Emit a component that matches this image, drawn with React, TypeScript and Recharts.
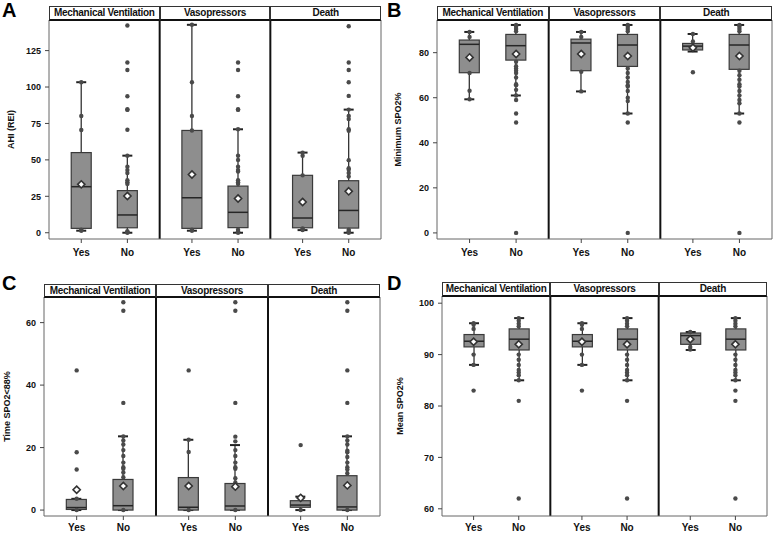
import { ComposedChart, Bar, Scatter, XAxis, YAxis, ReferenceLine } from 'recharts'

const FACETS = ['Mechanical Ventilation', 'Vasopressors', 'Death']
const GROUPS = ['Yes', 'No']
// order of every stat array: MV Yes, MV No, Vaso Yes, Vaso No, Death Yes, Death No

// A: AHI (REI)
const AHI_LOW = [1.4, 0, 1.4, 0, 1.8, 0]
const AHI_Q1 = [3, 3.4, 3, 3.5, 3.4, 3.2]
const AHI_MED = [31.6, 12.2, 24, 14, 10.1, 15.3]
const AHI_Q3 = [55, 28.9, 70.2, 32, 39.4, 35.7]
const AHI_HIGH = [103.3, 52.9, 142.7, 71, 55, 84.5]
const AHI_MEAN = [33.2, 25.2, 40, 23.5, 21.1, 28.4]
const AHI_DOTS = [
  [103.3, 80.1, 70.5, 2, 1.4],
  [142.2, 116.8, 111.7, 93.7, 84.8, 84.3, 70.7, 52.9, 45.3, 43, 41, 36, 34.6, 33.5, 1, 0.5, 0],
  [142.7, 103.3, 80.1, 70.2, 2, 1.4],
  [116.8, 111.7, 93.7, 84.8, 84.3, 71, 52.9, 50, 45.3, 43, 42, 36, 34.6, 33.5, 2, 1, 0],
  [55, 52.8, 39.4, 3, 1.8],
  [141.7, 116.8, 111.7, 103.3, 93.9, 84.5, 80.2, 78, 71.1, 70, 49.8, 44.3, 43.2, 41, 38.6, 2, 1, 0],
]
const AHI_TICKS = [0, 25, 50, 75, 100, 125]

// B: Minimum SPO2%
const MIN_LOW = [59.3, 61, 62.8, 53, 80.5, 53]
const MIN_Q1 = [71.1, 76.7, 72, 73.9, 81.2, 72.6]
const MIN_MED = [83.7, 83.1, 84.3, 83.4, 82.9, 83.4]
const MIN_Q3 = [85.6, 88.1, 86, 88.1, 84.1, 88.1]
const MIN_HIGH = [89.2, 92.3, 89.2, 92.3, 88.3, 92.3]
const MIN_MEAN = [77.9, 79.4, 79.4, 78.5, 82.2, 78.5]
const MIN_DOTS = [
  [89.2, 87, 71, 63.1, 59.3],
  [92.3, 91.5, 90.5, 89.5, 76, 74, 73, 72, 71, 69, 66, 65.5, 63.5, 61, 59, 53, 49, 0],
  [89.2, 87, 71.5, 62.8],
  [92.3, 91.5, 90.5, 89.5, 73, 71, 69, 67, 65.5, 65, 63, 60, 58.5, 53, 49, 0],
  [88.3, 85, 82, 71.3],
  [92.3, 91.5, 90.5, 89.5, 72, 70, 68, 66, 65, 63, 61, 59, 57.5, 53, 49, 0],
]
const MIN_TICKS = [0, 20, 40, 60, 80]

// C: Time SPO2<88%
const T_LOW = [0, 0, 0, 0, 0, 0]
const T_Q1 = [0.2, 0, 0, 0, 0.9, 0]
const T_MED = [0.8, 1.4, 0.9, 1.3, 1.6, 1]
const T_Q3 = [3.4, 9.8, 10.4, 8.5, 3, 11]
const T_HIGH = [3.6, 23.6, 22.5, 20.8, 4.3, 23.6]
const T_MEAN = [6.5, 7.7, 7.7, 7.5, 3.9, 7.9]
const T_DOTS = [
  [44.7, 18.5, 13, 3.6, 0],
  [66.5, 63.8, 34.3, 23.6, 22.3, 21, 19.2, 17.3, 15.2, 13.7, 13.2, 12, 10.5, 0],
  [44.7, 22.5, 18.6, 0],
  [66.5, 63.8, 34.3, 23.5, 22, 19.2, 17.3, 15.2, 13.7, 13.2, 10.2, 8.8, 0],
  [20.8, 4.3, 3.8, 0],
  [66.5, 63.8, 44.7, 34.3, 23.6, 22.3, 21, 19, 18.5, 17, 15.2, 13.7, 13, 11.8, 0],
]
const T_TICKS = [0, 20, 40, 60]

// D: Mean SPO2%
const M_LOW = [88, 85, 88, 85, 90.9, 85]
const M_Q1 = [91.5, 90.9, 91.5, 90.9, 92, 90.9]
const M_MED = [92.6, 93, 92.6, 93, 93.7, 93]
const M_Q3 = [93.9, 95, 93.9, 95, 94.2, 95]
const M_HIGH = [96.1, 97.1, 96.1, 97.1, 94.4, 97.1]
const M_MEAN = [92.5, 92, 92.5, 92, 93, 92]
const M_DOTS = [
  [96.1, 95.8, 95, 90, 88, 83],
  [97.1, 96.6, 96, 95.5, 90, 89, 88, 87, 86.5, 86, 85, 81, 62],
  [96.1, 95.8, 95, 90, 88, 83],
  [97.1, 96.6, 96, 95.5, 90, 89, 88, 87, 86.5, 86, 85, 81, 62],
  [94.4, 91.5, 91],
  [97.1, 96.6, 96, 95.5, 90, 89, 88, 87, 86.5, 86, 85, 83, 81, 62],
]
const M_TICKS = [60, 70, 80, 90, 100]

const FONT = '"Liberation Sans", Arial, sans-serif'
const FACET_SPAN = 2.4
const GROUP_POS = [0.7, 1.7]
const X_TICKS = [0, 1, 2].flatMap(f => GROUP_POS.map(g => f * FACET_SPAN + g))

type Stats = {
  low: number[]; q1: number[]; med: number[]; q3: number[]; high: number[]; mean: number[]; dots: number[][]
}

const BoxShape = (p: any) => {
  const { x, y, width, height, payload } = p
  if (x == null || !payload) return null
  const { lo, q1, med, q3, hi } = payload
  const py = (v: number) => y + (height * (hi - v)) / (hi - lo)
  const cx = x + width / 2
  return (
    <g>
      <line x1={cx} x2={cx} y1={py(hi)} y2={py(lo)} stroke="#333" strokeWidth={1.3} />
      <line x1={cx - 5} x2={cx + 5} y1={py(hi)} y2={py(hi)} stroke="#222" strokeWidth={2} />
      <line x1={cx - 5} x2={cx + 5} y1={py(lo)} y2={py(lo)} stroke="#222" strokeWidth={2} />
      <rect x={x} y={py(q3)} width={width} height={Math.max(py(q1) - py(q3), 1)} fill="#8e8e8e" stroke="#3a3a3a" strokeWidth={1.2} />
      <line x1={x} x2={x + width} y1={py(med)} y2={py(med)} stroke="#262626" strokeWidth={1.5} />
    </g>
  )
}

const DotShape = (p: any) => <circle cx={p.cx} cy={p.cy} r={2.2} fill="#4a4a4a" />

const Diamond = (p: any) => {
  const r = 3.6
  return (
    <polygon
      points={`${p.cx},${p.cy - r} ${p.cx + r},${p.cy} ${p.cx},${p.cy + r} ${p.cx - r},${p.cy}`}
      fill="#fff" stroke="#333" strokeWidth={1.6}
    />
  )
}

type PanelProps = {
  letter: string; yLabel: string; stats: Stats; domain: [number, number]; ticks: number[]
  left: number; top: number; width: number; height: number
  plotLeft: number; plotRight: number; plotTop: number; plotBottom: number; headerTop: number
  labelOffset: number; xGap: number
}

function Panel(p: PanelProps) {
  const s = p.stats
  const rows = s.low.map((lo, i) => ({
    x: X_TICKS[i], lo, q1: s.q1[i], med: s.med[i], q3: s.q3[i], hi: s.high[i],
  }))
  const means = s.mean.map((m, i) => ({ x: X_TICKS[i], y: m }))
  const dots = s.dots.flatMap((arr, i) => arr.map(v => ({ x: X_TICKS[i], y: v })))
  const fw = (p.plotRight - p.plotLeft) / 3
  return (
    <>
      <div style={{ position: 'absolute', left: p.left, top: p.top }}>
        <ComposedChart
          width={p.width}
          height={p.height}
          data={rows}
          margin={{ top: p.plotTop - p.top, right: p.left + p.width - p.plotRight, bottom: 0, left: 0 }}
        >
          <XAxis
            type="number" dataKey="x" domain={[0, FACET_SPAN * 3]} ticks={X_TICKS} interval={0}
            allowDataOverflow height={p.top + p.height - p.plotBottom}
            tickFormatter={(_v: number, i: number) => GROUPS[i % 2]}
            tick={{ fontSize: 10, fontWeight: 700, fill: '#111' }}
            tickSize={4} tickMargin={p.xGap}
            axisLine={{ stroke: '#666' }} tickLine={{ stroke: '#444' }}
          />
          <YAxis
            type="number" dataKey="y" domain={p.domain} ticks={p.ticks} interval={0} allowDataOverflow
            width={p.plotLeft - p.left}
            tick={{ fontSize: 9, fontWeight: 700, fill: '#111' }}
            tickSize={4} tickMargin={4}
            axisLine={{ stroke: '#666' }} tickLine={{ stroke: '#444' }}
            label={{
              value: p.yLabel, angle: -90, position: 'insideLeft', offset: p.labelOffset,
              style: { textAnchor: 'middle', fontSize: 9, fontWeight: 700, fill: '#111' },
            }}
          />
          <ReferenceLine x={FACET_SPAN * 3} stroke="#666" />
          <ReferenceLine x={FACET_SPAN} stroke="#111" strokeWidth={2} />
          <ReferenceLine x={FACET_SPAN * 2} stroke="#111" strokeWidth={2} />
          <Bar dataKey={(d: any) => [d.lo, d.hi]} barSize={20} shape={BoxShape} isAnimationActive={false} />
          <Scatter data={dots} dataKey="y" shape={DotShape} isAnimationActive={false} />
          <Scatter data={means} dataKey="y" shape={Diamond} isAnimationActive={false} />
        </ComposedChart>
      </div>
      {FACETS.map((f, i) => (
        <div
          key={f}
          style={{
            position: 'absolute', left: p.plotLeft + i * fw, top: p.headerTop, width: fw,
            height: p.plotTop - p.headerTop + 1, boxSizing: 'border-box',
            border: '1px solid #333', borderBottom: '2px solid #111', background: '#fff',
            fontSize: 10, fontWeight: 700, letterSpacing: -0.3, textAlign: 'center',
            lineHeight: `${p.plotTop - p.headerTop - 2}px`, whiteSpace: 'nowrap', overflow: 'hidden', color: '#111',
          }}
        >
          {f}
        </div>
      ))}
      <div style={{ position: 'absolute', left: p.left + 2, top: p.top + (p.top ? 11 : 0), fontSize: 20, fontWeight: 700, lineHeight: 1 }}>
        {p.letter}
      </div>
    </>
  )
}

export default function App() {
  return (
    <div style={{ position: 'absolute', left: 0, top: 0, width: 777, height: 537, background: '#fff', fontFamily: FONT }}>
      <Panel
        letter="A" yLabel="AHI (REI)" domain={[-4.3, 146]} ticks={AHI_TICKS}
        stats={{ low: AHI_LOW, q1: AHI_Q1, med: AHI_MED, q3: AHI_Q3, high: AHI_HIGH, mean: AHI_MEAN, dots: AHI_DOTS }}
        left={0} top={0} width={385} height={262}
        plotLeft={49} plotRight={381} plotTop={20} plotBottom={239} headerTop={6}
        labelOffset={11} xGap={6}
      />
      <Panel
        letter="B" yLabel="Minimum SPO2%" domain={[-2.7, 94.5]} ticks={MIN_TICKS}
        stats={{ low: MIN_LOW, q1: MIN_Q1, med: MIN_MED, q3: MIN_Q3, high: MIN_HIGH, mean: MIN_MEAN, dots: MIN_DOTS }}
        left={385} top={0} width={392} height={262}
        plotLeft={437} plotRight={772} plotTop={20} plotBottom={239} headerTop={6}
        labelOffset={13} xGap={6}
      />
      <Panel
        letter="C" yLabel="Time SPO2<88%" domain={[-1.9, 68.2]} ticks={T_TICKS}
        stats={{ low: T_LOW, q1: T_Q1, med: T_MED, q3: T_Q3, high: T_HIGH, mean: T_MEAN, dots: T_DOTS }}
        left={0} top={262} width={385} height={275}
        plotLeft={44} plotRight={380} plotTop={297} plotBottom={516} headerTop={284}
        labelOffset={7} xGap={4}
      />
      <Panel
        letter="D" yLabel="Mean SPO2%" domain={[58.6, 101.4]} ticks={M_TICKS}
        stats={{ low: M_LOW, q1: M_Q1, med: M_MED, q3: M_Q3, high: M_HIGH, mean: M_MEAN, dots: M_DOTS }}
        left={385} top={262} width={392} height={275}
        plotLeft={442} plotRight={767} plotTop={296} plotBottom={516} headerTop={282}
        labelOffset={15} xGap={4}
      />
    </div>
  )
}
